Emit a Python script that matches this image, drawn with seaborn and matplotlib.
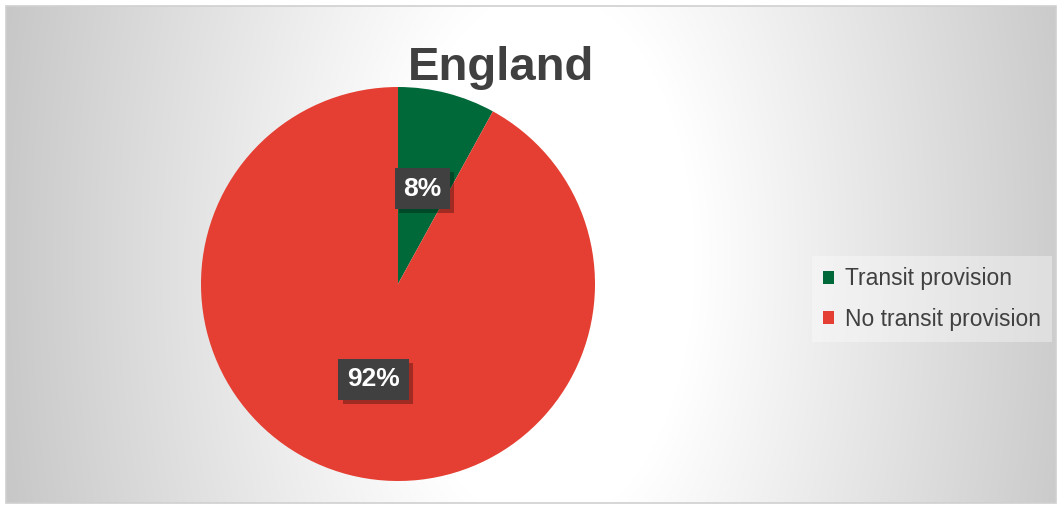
import numpy as np
import matplotlib
matplotlib.use("Agg")
import matplotlib.pyplot as plt
import seaborn as sns
from matplotlib.patches import Rectangle, Patch
import matplotlib.patheffects as pe

# ---- data ----
title = "England"
categories = ["Transit provision", "No transit provision"]
values = [8, 92]
colors = ["#00693A", "#E53E32"]

sns.set_theme(style="white")
plt.rcParams["font.family"] = ["Liberation Sans", "DejaVu Sans"]

W, H = 1062, 507
fig = plt.figure(figsize=(W / 100, H / 100), dpi=100)
fig.patch.set_facecolor("white")

# ---- background (radial gradient chart area) ----
bg = fig.add_axes([0, 0, 1, 1])
bg.set_xlim(0, W)
bg.set_ylim(H, 0)
bg.axis("off")
x0, y0, x1, y1 = 6, 6, 1056, 503
xs = np.arange(x0, x1) + 0.5
ys = np.arange(y0, y1) + 0.5
X, Y = np.meshgrid(xs, ys)
cx, cy = 545, 260
d = np.sqrt(((X - cx) / 500.0) ** 2 + ((Y - cy) / 900.0) ** 2)
v = 255 - 55 * np.clip((d - 0.3) / 0.8, 0, 1.1)
img = np.dstack([v, v, v]) / 255.0
bg.imshow(img, extent=(x0, x1, y1, y0), aspect="auto", interpolation="bilinear", zorder=0)
bg.add_patch(Rectangle((x0, y0), x1 - x0, y1 - y0, fill=False, edgecolor="#d0d0d0", lw=1.2, zorder=1))

# ---- pie ----
pcx, pcy, r = 398, 284, 197
ax = fig.add_axes([(pcx - r) / W, 1 - (pcy + r) / H, 2 * r / W, 2 * r / H])
ax.set_facecolor("none")
wedges, texts, autotexts = ax.pie(
    values, colors=colors, startangle=90, counterclock=False,
    autopct=lambda p: f"{p:.0f}%", pctdistance=0.5,
    wedgeprops=dict(linewidth=0),
    textprops=dict(color="white", fontsize=19, fontweight="bold"),
)
ax.set_xlim(-1, 1)
ax.set_ylim(-1, 1)
ax.set_aspect("equal")
ax.axis("off")
for t in autotexts:
    t.set_bbox(dict(boxstyle="square,pad=0.33", facecolor="#404040", edgecolor="none"))
    t.get_bbox_patch().set_path_effects([
        pe.SimplePatchShadow(offset=(3, -3), shadow_rgbFace="black", alpha=0.3),
        pe.Normal(),
    ])

# ---- title ----
fig.text(501 / W, 1 - 80 / H, title, ha="center", va="baseline",
         fontsize=34, fontweight="bold", color="#404040")

# ---- legend ----
handles = [Patch(facecolor=c, edgecolor="none") for c in colors]
leg = fig.legend(
    handles, categories, loc="center left",
    bbox_to_anchor=(812 / W, 1 - 299 / H),
    fontsize=16.5, frameon=True, fancybox=False,
    handlelength=0.48, handleheight=0.48, handletextpad=0.45,
    labelspacing=0.75, borderpad=0.5, borderaxespad=0,
)
for txt in leg.get_texts():
    txt.set_color("#404040")
frame = leg.get_frame()
frame.set_facecolor("white")
frame.set_alpha(0.35)
frame.set_edgecolor("none")

fig.savefig("out.png", dpi=100)
